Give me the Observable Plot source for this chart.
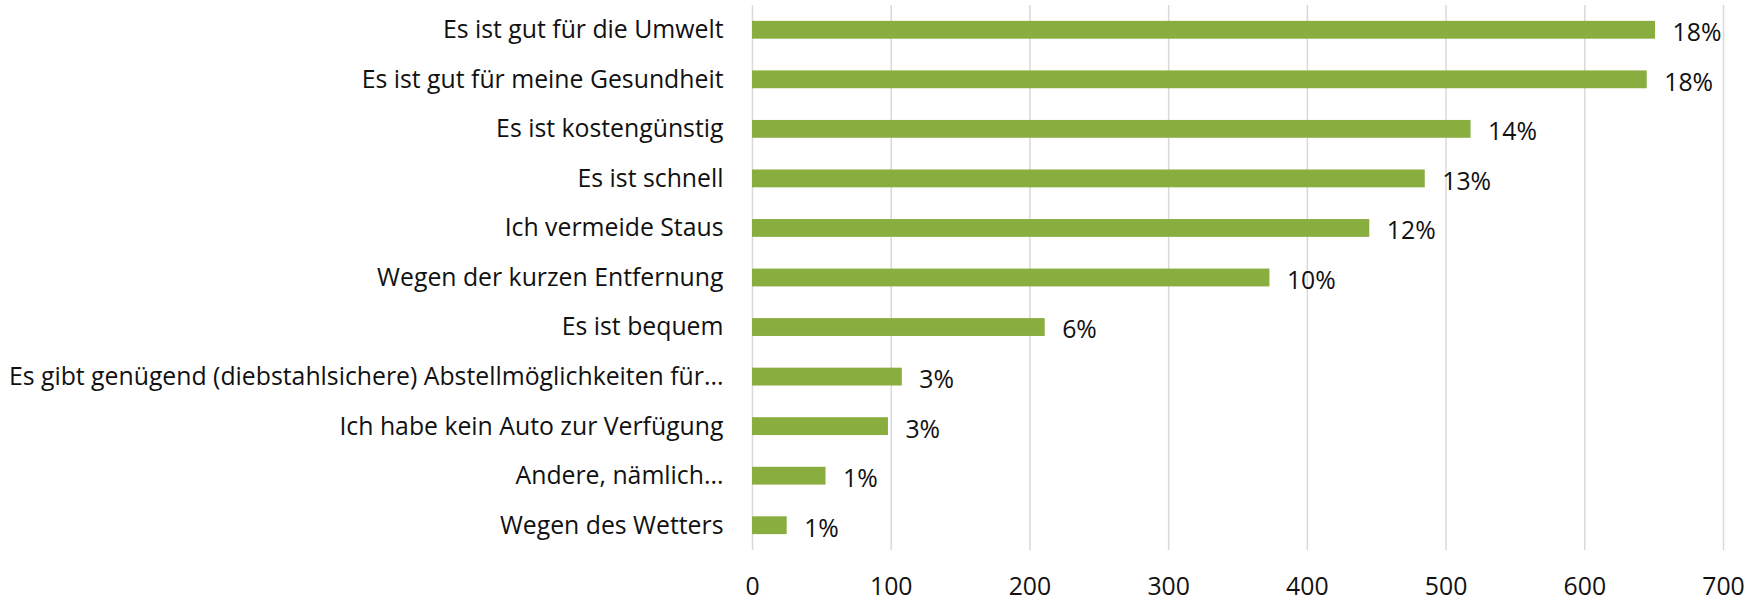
<!DOCTYPE html>
<html>
<head>
<meta charset="utf-8">
<script src="https://cdn.jsdelivr.net/npm/d3@7"></script>
<script src="https://cdn.jsdelivr.net/npm/@observablehq/plot@0.6"></script>
<style>
  html, body { margin: 0; padding: 0; background: #fff; }
  #chart svg { display: block; }
</style>
</head>
<body>
<div id="chart"></div>
<script>
const categories = [
  "Es ist gut für die Umwelt",
  "Es ist gut für meine Gesundheit",
  "Es ist kostengünstig",
  "Es ist schnell",
  "Ich vermeide Staus",
  "Wegen der kurzen Entfernung",
  "Es ist bequem",
  "Es gibt genügend (diebstahlsichere) Abstellmöglichkeiten für...",
  "Ich habe kein Auto zur Verfügung",
  "Andere, nämlich...",
  "Wegen des Wetters"
];
const values = [651, 645, 518, 485, 445, 373, 211, 108, 98, 53, 25];
const percentLabels = ["18%", "18%", "14%", "13%", "12%", "10%", "6%", "3%", "3%", "1%", "1%"];
const xTicks = [0, 100, 200, 300, 400, 500, 600, 700];

const data = categories.map((c, i) => ({category: c, value: values[i], label: percentLabels[i]}));

const font = "'Open Sans', 'Noto Sans', sans-serif";
const fs = 24.8;
const chart = Plot.plot({
  width: 1761,
  height: 601,
  marginLeft: 752,
  marginRight: 38,
  marginTop: 5,
  marginBottom: 51,
  style: {fontFamily: font, fontSize: fs + "px", color: "#111", background: "#fff"},
  x: {domain: [0, 700], ticks: xTicks},
  y: {domain: categories, paddingInner: 0.64, paddingOuter: 0.32, round: false},
  marks: [
    Plot.gridX(xTicks, {stroke: "#d9d9d9", strokeOpacity: 1, strokeWidth: 1.5}),
    Plot.axisX({ticks: xTicks, tickSize: 0, tickPadding: 27, fontSize: fs, label: null}),
    Plot.axisY({tickSize: 0, tickPadding: 29, fontSize: fs, label: null}),
    Plot.barX(data, {x: "value", y: "category", fill: "#8aad40"}),
    Plot.text(data, {x: "value", y: "category", text: "label", dx: 17, dy: 3, textAnchor: "start", fontSize: fs, fill: "#111"})
  ]
});
document.getElementById("chart").appendChild(chart);
</script>
</body>
</html>
